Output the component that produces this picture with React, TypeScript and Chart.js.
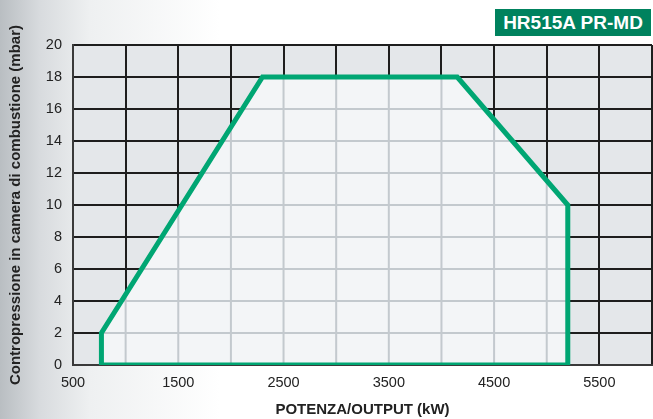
import React, { useEffect, useRef } from "react";
import { Chart, registerables } from "chart.js";

Chart.register(...registerables);

const TITLE = "HR515A PR-MD";
const X_TITLE = "POTENZA/OUTPUT (kW)";
const Y_TITLE = "Contropressione in camera di combustione (mbar)";

// working field polygon (kW, mbar)
const powerKW = [770, 770, 2300, 4150, 5200, 5200, 770];
const pressureMbar = [0, 2, 18, 18, 10, 0, 0];

const X_MIN = 500;
const X_MAX = 6000;
const X_STEP = 500;
const xTickLabels = [500, 1500, 2500, 3500, 4500, 5500];
const Y_MIN = 0;
const Y_MAX = 20;
const Y_STEP = 2;

const GREEN = "#00a673";
const BOX_GREEN = "#00825e";
const PLOT_BG = "#e4e7ea";
const FIELD_BG = "#f3f5f7";
const FIELD_GRID = "#c3c9ce";
const OUTER_GRID = "#1e1e1e";
const FONT = "'Liberation Sans', Arial, Helvetica, sans-serif";

const fieldPlugin = {
  id: "fieldPlugin",
  beforeDraw(chart: any) {
    const { ctx, chartArea } = chart;
    ctx.save();
    ctx.fillStyle = PLOT_BG;
    ctx.fillRect(chartArea.left, chartArea.top, chartArea.right - chartArea.left, chartArea.bottom - chartArea.top);
    ctx.restore();
  },
  beforeDatasetsDraw(chart: any) {
    const { ctx, chartArea, scales } = chart;
    const meta = chart.getDatasetMeta(0);
    const pts = meta.data;
    if (!pts || !pts.length) return;
    ctx.save();
    ctx.beginPath();
    pts.forEach((p: any, i: number) => {
      if (i === 0) ctx.moveTo(p.x, p.y);
      else ctx.lineTo(p.x, p.y);
    });
    ctx.closePath();
    ctx.clip();
    ctx.fillStyle = FIELD_BG;
    ctx.fillRect(chartArea.left, chartArea.top, chartArea.right - chartArea.left, chartArea.bottom - chartArea.top);
    ctx.strokeStyle = FIELD_GRID;
    ctx.lineWidth = 2;
    const xs = scales.x;
    const ys = scales.y;
    for (let v = X_MIN; v <= X_MAX; v += X_STEP) {
      const px = xs.getPixelForValue(v);
      ctx.beginPath();
      ctx.moveTo(px, chartArea.top);
      ctx.lineTo(px, chartArea.bottom);
      ctx.stroke();
    }
    for (let v = Y_MIN; v <= Y_MAX; v += Y_STEP) {
      const py = ys.getPixelForValue(v);
      ctx.beginPath();
      ctx.moveTo(chartArea.left, py);
      ctx.lineTo(chartArea.right, py);
      ctx.stroke();
    }
    ctx.restore();
  },
};

export default function App() {
  const ref = useRef<HTMLCanvasElement | null>(null);

  useEffect(() => {
    if (!ref.current) return;
    const data = powerKW.map((x, i) => ({ x, y: pressureMbar[i] }));
    const chart = new Chart(ref.current, {
      type: "scatter",
      data: {
        datasets: [
          {
            data,
            showLine: true,
            borderColor: GREEN,
            borderWidth: 5,
            pointRadius: 0,
            fill: false,
            tension: 0,
            borderJoinStyle: "miter",
          } as any,
        ],
      },
      options: {
        animation: false,
        responsive: false,
        maintainAspectRatio: false,
        layout: { padding: { top: 45, right: 1, left: 0, bottom: 0 } },
        plugins: { legend: { display: false }, tooltip: { enabled: false } },
        scales: {
          x: {
            type: "linear",
            min: X_MIN,
            max: X_MAX,
            afterFit: (s: any) => {
              s.height = 54;
              s.paddingLeft = 0;
              s.paddingRight = 0;
            },
            afterBuildTicks: (s: any) => {
              const t = [];
              for (let v = X_MIN; v <= X_MAX; v += X_STEP) t.push({ value: v });
              s.ticks = t;
            },
            ticks: {
              autoSkip: false,
              maxRotation: 0,
              padding: 9,
              color: "#222",
              font: { family: FONT, size: 14.5 },
              callback: (v: any) => (xTickLabels.includes(Number(v)) ? String(v) : ""),
            },
            grid: { color: OUTER_GRID, lineWidth: 2, drawTicks: false },
            border: { display: true, color: "#3a3a3a", width: 2 },
            title: {
              display: true,
              text: X_TITLE,
              color: "#222",
              font: { family: FONT, size: 15, weight: "bold" },
              padding: { top: 0, bottom: 0 },
            },
          },
          y: {
            type: "linear",
            min: Y_MIN,
            max: Y_MAX,
            afterFit: (s: any) => {
              s.width = 73;
              s.paddingTop = 0;
              s.paddingBottom = 0;
            },
            ticks: {
              stepSize: Y_STEP,
              padding: 11,
              color: "#222",
              font: { family: FONT, size: 14.5 },
            },
            grid: { color: OUTER_GRID, lineWidth: 2, drawTicks: false },
            border: { display: true, color: "#3a3a3a", width: 2 },
            title: {
              display: true,
              text: Y_TITLE,
              color: "#222",
              font: { family: FONT, size: 15, weight: "bold" },
              padding: { top: 7, bottom: 0 },
            },
          },
        },
      },
      plugins: [fieldPlugin],
    });
    return () => chart.destroy();
  }, []);

  return (
    <div
      style={{
        position: "fixed",
        left: 0,
        top: 0,
        width: 653,
        height: 419,
        background:
          "linear-gradient(to right, #b9bec2 0px, #d8dbde 40px, #eef0f1 90px, #ffffff 220px)",
        overflow: "hidden",
      }}
    >
      <canvas ref={ref} width={653} height={419} style={{ position: "absolute", left: 0, top: 0 }} />
      <div
        style={{
          position: "absolute",
          left: 495,
          top: 9,
          width: 156,
          height: 27,
          background: BOX_GREEN,
          color: "#fff",
          fontFamily: FONT,
          fontWeight: "bold",
          fontSize: 19,
          lineHeight: "27px",
          textAlign: "center",
        }}
      >
        {TITLE}
      </div>
    </div>
  );
}
